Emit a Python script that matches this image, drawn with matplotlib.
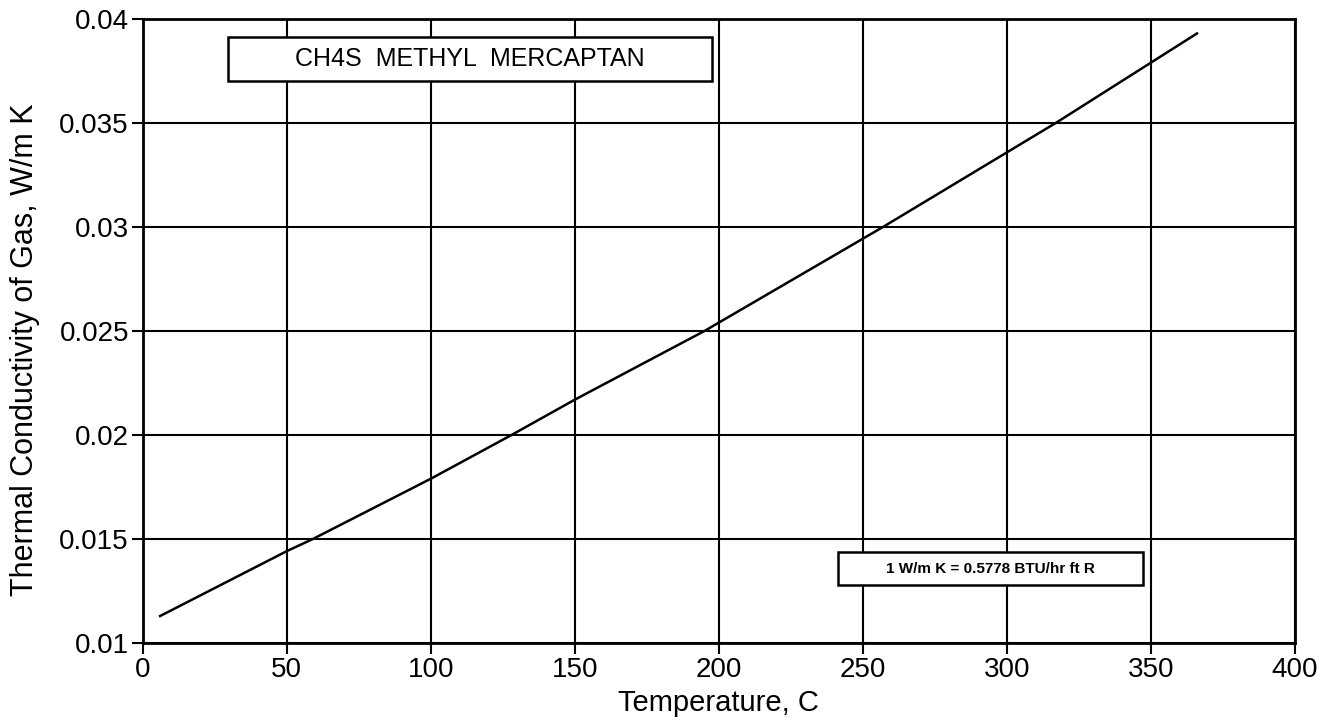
import matplotlib
matplotlib.use('Agg')
import matplotlib.pyplot as plt
from matplotlib.patches import Rectangle

# readings
temp_c = [6, 50, 59, 100, 128, 150, 195, 257, 317, 366]
k_gas = [0.0113, 0.01442, 0.0150, 0.0179, 0.0200, 0.0217, 0.0250, 0.0300, 0.0350, 0.0393]

xticks = [0, 50, 100, 150, 200, 250, 300, 350, 400]
yticks = [0.01, 0.015, 0.02, 0.025, 0.03, 0.035, 0.04]
ytick_labels = ['0.01', '0.015', '0.02', '0.025', '0.03', '0.035', '0.04']

plt.rcParams['font.family'] = ['Liberation Sans', 'DejaVu Sans']

fig = plt.figure(figsize=(13.35, 7.25), dpi=100)
ax = fig.add_axes([0.107, 0.113, 0.863, 0.861])

ax.plot(temp_c, k_gas, color='black', linewidth=1.8, zorder=3)

ax.set_xlim(0, 400)
ax.set_ylim(0.01, 0.04)
ax.set_xticks(xticks)
ax.set_yticks(yticks)
ax.set_yticklabels(ytick_labels)
ax.grid(True, color='black', linewidth=1.5)
for s in ax.spines.values():
    s.set_linewidth(2)
ax.tick_params(direction='out', length=8, width=1.5, labelsize=20, colors='black', pad=2)

ax.set_xlabel('Temperature, C', fontsize=21, labelpad=4)
ax.set_ylabel('Thermal Conductivity of Gas, W/m K', fontsize=22, labelpad=14)
ax.yaxis.label.set_y(0.47)

# title box
ax.add_patch(Rectangle((29.5, 0.03702), 168.1, 0.00211, facecolor='white',
                       edgecolor='black', linewidth=1.8, zorder=5))
ax.text(113.5, 0.03808, 'CH4S  METHYL  MERCAPTAN', fontsize=18, ha='center', va='center', zorder=6)

# unit box
ax.add_patch(Rectangle((241.3, 0.01279), 105.9, 0.00158, facecolor='white',
                       edgecolor='black', linewidth=1.8, zorder=5))
ax.text(294.2, 0.01358, '1 W/m K = 0.5778 BTU/hr ft R', fontsize=11, fontweight='bold',
        ha='center', va='center', zorder=6)

fig.savefig('out.png', dpi=100)
